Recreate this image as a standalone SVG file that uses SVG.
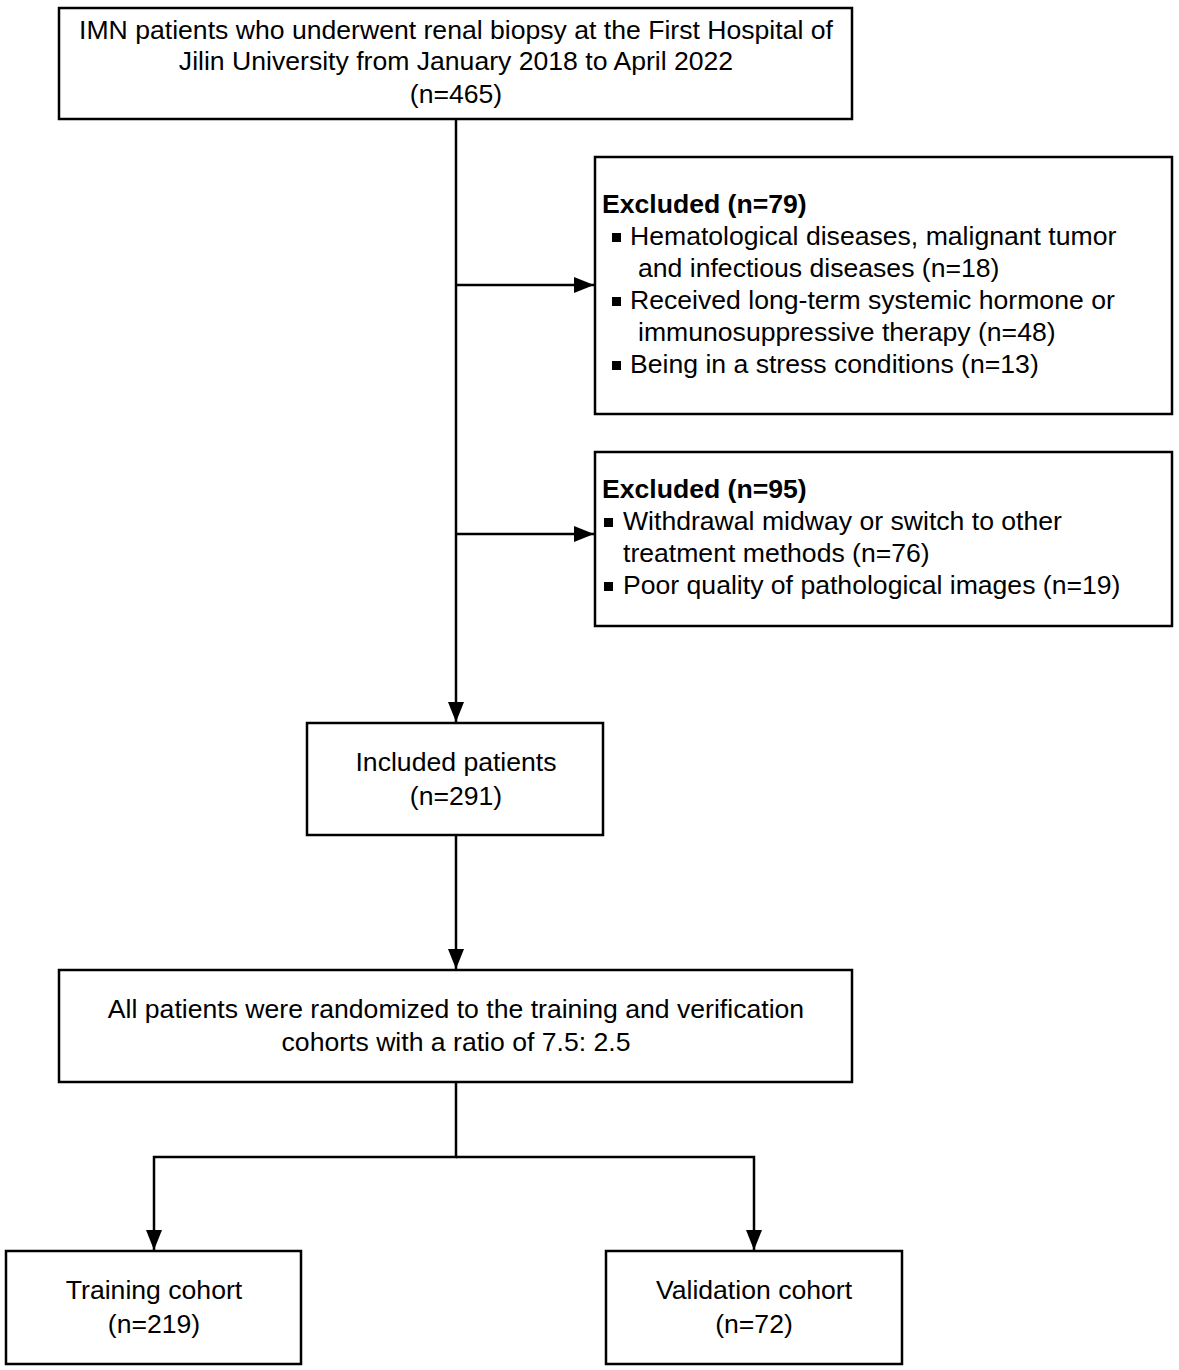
<svg xmlns="http://www.w3.org/2000/svg" width="1179" height="1370" viewBox="0 0 1179 1370">
<style>
.box{fill:#fff;stroke:#000;stroke-width:2.5}
.t{font-family:"Liberation Sans",Arial,sans-serif;font-size:26.6px;fill:#000}
.c{text-anchor:middle}
.b{font-weight:bold}
.ln{stroke:#000;stroke-width:2.5;fill:none}
</style>
<defs>
<marker id="a" viewBox="0 0 20 16" refX="20" refY="8" markerWidth="20" markerHeight="16" orient="auto" markerUnits="userSpaceOnUse">
<path d="M0,0 L20,8 L0,16 z" fill="#000"/>
</marker>
</defs>
<rect width="1179" height="1370" fill="#fff"/>
<g id="connectors">
<line class="ln" x1="456" y1="119" x2="456" y2="722" marker-end="url(#a)"/>
<line class="ln" x1="456" y1="285" x2="594" y2="285" marker-end="url(#a)"/>
<line class="ln" x1="456" y1="534" x2="594" y2="534" marker-end="url(#a)"/>
<line class="ln" x1="456" y1="835" x2="456" y2="969" marker-end="url(#a)"/>
<polyline class="ln" points="456,1082 456,1157 154,1157 154,1250" marker-end="url(#a)"/>
<polyline class="ln" points="456,1157 754,1157 754,1250" marker-end="url(#a)"/>
</g>
<g id="n1">
<rect class="box" x="59" y="8" width="793" height="111"/>
<text class="t c" x="456" y="39">IMN patients who underwent renal biopsy at the First Hospital of</text>
<text class="t c" x="456" y="70">Jilin University from January 2018 to April 2022</text>
<text class="t c" x="456" y="103">(n=465)</text>
</g>
<g id="ex1">
<rect class="box" x="595" y="157" width="577" height="257"/>
<text class="t b" x="602" y="213">Excluded (n=79)</text>
<rect x="612" y="233" width="9" height="9" fill="#000"/>
<text class="t" x="630" y="245">Hematological diseases, malignant tumor</text>
<text class="t" x="638" y="277">and infectious diseases (n=18)</text>
<rect x="612" y="297" width="9" height="9" fill="#000"/>
<text class="t" x="630" y="309">Received long-term systemic hormone or</text>
<text class="t" x="638" y="341">immunosuppressive therapy (n=48)</text>
<rect x="612" y="361" width="9" height="9" fill="#000"/>
<text class="t" x="630" y="373">Being in a stress conditions (n=13)</text>
</g>
<g id="ex2">
<rect class="box" x="595" y="452" width="577" height="174"/>
<text class="t b" x="602" y="498">Excluded (n=95)</text>
<rect x="604" y="518" width="9" height="9" fill="#000"/>
<text class="t" x="623" y="530">Withdrawal midway or switch to other</text>
<text class="t" x="623" y="562">treatment methods (n=76)</text>
<rect x="604" y="582" width="9" height="9" fill="#000"/>
<text class="t" x="623" y="594">Poor quality of pathological images (n=19)</text>
</g>
<g id="n2">
<rect class="box" x="307" y="723" width="296" height="112"/>
<text class="t c" x="456" y="771">Included patients</text>
<text class="t c" x="456" y="805">(n=291)</text>
</g>
<g id="n3">
<rect class="box" x="59" y="970" width="793" height="112"/>
<text class="t c" x="456" y="1018">All patients were randomized to the training and verification</text>
<text class="t c" x="456" y="1051">cohorts with a ratio of 7.5: 2.5</text>
</g>
<g id="n4">
<rect class="box" x="6" y="1251" width="295" height="113"/>
<text class="t c" x="154" y="1299">Training cohort</text>
<text class="t c" x="154" y="1333">(n=219)</text>
</g>
<g id="n5">
<rect class="box" x="606" y="1251" width="296" height="113"/>
<text class="t c" x="754" y="1299">Validation cohort</text>
<text class="t c" x="754" y="1333">(n=72)</text>
</g>
</svg>
